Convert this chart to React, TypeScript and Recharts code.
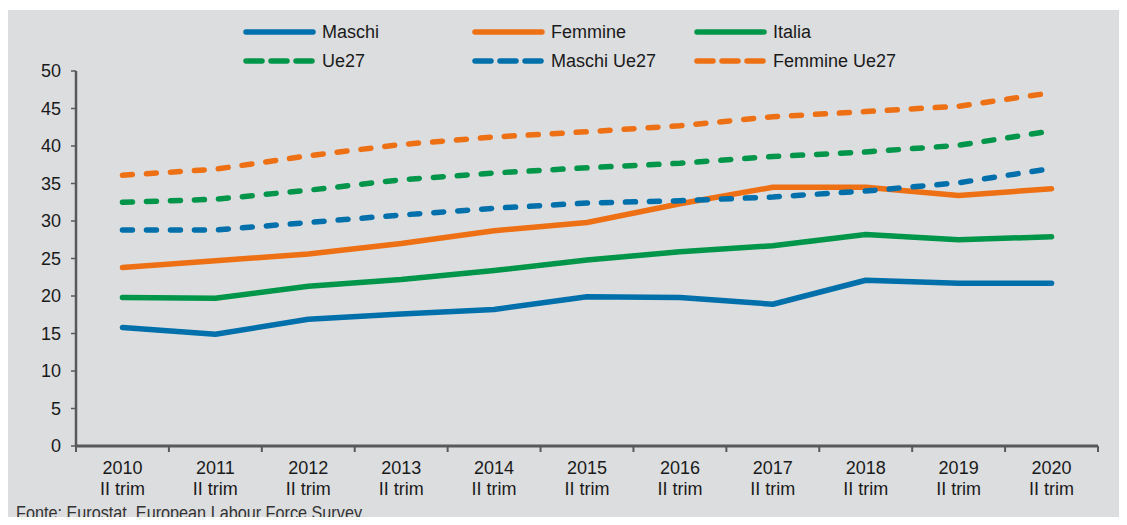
import { LineChart, Line, XAxis, YAxis, Legend } from "recharts";

const categories = ["2010", "2011", "2012", "2013", "2014", "2015", "2016", "2017", "2018", "2019", "2020"];
const subLabel = "II trim";

const maschi = [15.8, 14.9, 16.9, 17.6, 18.2, 19.9, 19.8, 18.9, 22.1, 21.7, 21.7];
const femmine = [23.8, 24.7, 25.6, 27.0, 28.7, 29.8, 32.3, 34.5, 34.5, 33.4, 34.3];
const italia = [19.8, 19.7, 21.3, 22.2, 23.4, 24.8, 25.9, 26.7, 28.2, 27.5, 27.9];
const ue27 = [32.5, 32.9, 34.1, 35.5, 36.4, 37.1, 37.7, 38.6, 39.2, 40.1, 42.0];
const maschiUe27 = [28.8, 28.8, 29.8, 30.8, 31.7, 32.4, 32.7, 33.2, 34.0, 35.1, 37.0];
const femmineUe27 = [36.1, 36.9, 38.7, 40.2, 41.2, 41.9, 42.7, 43.9, 44.6, 45.3, 47.1];

const yTicks = [0, 5, 10, 15, 20, 25, 30, 35, 40, 45, 50];
const source = "Fonte: Eurostat, European Labour Force Survey";

const BLUE = "#0070ab";
const ORANGE = "#ee7014";
const GREEN = "#00964a";
const AXIS = "#595959";
const TEXT = "#1a1a1a";

const series = [
  { key: "maschi", name: "Maschi", color: BLUE, dashed: false, values: maschi },
  { key: "femmine", name: "Femmine", color: ORANGE, dashed: false, values: femmine },
  { key: "italia", name: "Italia", color: GREEN, dashed: false, values: italia },
  { key: "ue27", name: "Ue27", color: GREEN, dashed: true, values: ue27 },
  { key: "maschiUe27", name: "Maschi Ue27", color: BLUE, dashed: true, values: maschiUe27 },
  { key: "femmineUe27", name: "Femmine Ue27", color: ORANGE, dashed: true, values: femmineUe27 },
];

const data = categories.map((c, i) => {
  const row: Record<string, number | string> = { x: i, year: c };
  series.forEach((s) => {
    row[s.key] = s.values[i];
  });
  return row;
});

// ticks at the band edges (tick marks) and at the centres (labels)
const xTicks: number[] = [];
for (let i = 0; i <= categories.length; i++) {
  xTicks.push(i - 0.5);
  if (i < categories.length) xTicks.push(i);
}

function XTick({ x, y, payload }: any) {
  const v = payload.value;
  if (!Number.isInteger(v)) {
    return <line x1={x} x2={x} y1={y} y2={y + 6} stroke={AXIS} strokeWidth={2} />;
  }
  return (
    <text x={x} y={y} textAnchor="middle" fontSize={18} fill={TEXT}>
      <tspan x={x} dy={28}>{categories[v]}</tspan>
      <tspan x={x} dy={21}>{subLabel}</tspan>
    </text>
  );
}

const legendCols = [243, 472, 694];
const legendRows = [32, 61];

// legend drawn in series order (recharts would sort it by name)
function renderLegend() {
  return (
    <svg width={1127} height={80}>
      {series.map((s, i) => {
        const x = legendCols[i % 3];
        const y = legendRows[Math.floor(i / 3)];
        return (
          <g key={s.key}>
            <line
              x1={x + 3}
              x2={x + 70}
              y1={y}
              y2={y}
              stroke={s.color}
              strokeWidth={5.5}
              strokeLinecap="round"
              strokeDasharray={s.dashed ? "16 9" : undefined}
            />
            <text x={x + 79} y={y} dy="0.35em" fontSize={18} fill={TEXT}>
              {s.name}
            </text>
          </g>
        );
      })}
    </svg>
  );
}

export default function App() {
  return (
    <div
      style={{
        position: "relative",
        width: 1127,
        height: 525,
        margin: -8,
        background: "#ffffff",
        fontFamily: "'Liberation Sans', Arial, sans-serif",
        overflow: "hidden",
      }}
    >
      <div style={{ position: "absolute", left: 7, top: 10, right: 0, bottom: 0, background: "#dcdddf" }} />
      <div style={{ position: "absolute", left: 0, top: 0 }}>
        <LineChart width={1127} height={525} data={data} margin={{ top: 71, right: 29, bottom: 0, left: 0 }}>
          <XAxis
            dataKey="x"
            type="number"
            domain={[-0.5, categories.length - 0.5]}
            ticks={xTicks}
            interval={0}
            height={79}
            tickSize={0}
            tickMargin={0}
            tickLine={false}
            tick={<XTick />}
            axisLine={{ stroke: AXIS, strokeWidth: 3 }}
          />
          <YAxis
            domain={[0, 50]}
            ticks={yTicks}
            interval={0}
            width={76}
            tickSize={5}
            tickMargin={10}
            tick={{ fontSize: 18, fill: TEXT }}
            tickLine={{ stroke: AXIS, strokeWidth: 1.5 }}
            axisLine={{ stroke: AXIS, strokeWidth: 2.5 }}
          />
          <Legend
            layout="horizontal"
            verticalAlign="middle"
            align="center"
            wrapperStyle={{ top: 0, left: 0, width: 1127, height: 80 }}
            content={renderLegend}
          />
          {series.map((s) => (
            <Line
              key={s.key}
              dataKey={s.key}
              name={s.name}
              type="linear"
              stroke={s.color}
              strokeWidth={5.5}
              strokeLinecap="round"
              strokeLinejoin="round"
              strokeDasharray={s.dashed ? "10 14" : undefined}
              dot={false}
              activeDot={false}
              isAnimationActive={false}
            />
          ))}
        </LineChart>
      </div>
      <svg width={1127} height={525} style={{ position: "absolute", left: 0, top: 0, pointerEvents: "none" }}>
        <text x={16} y={519} fontSize={18.5} fill="#333333" textLength={346} lengthAdjust="spacingAndGlyphs">
          {source}
        </text>
      </svg>
    </div>
  );
}
